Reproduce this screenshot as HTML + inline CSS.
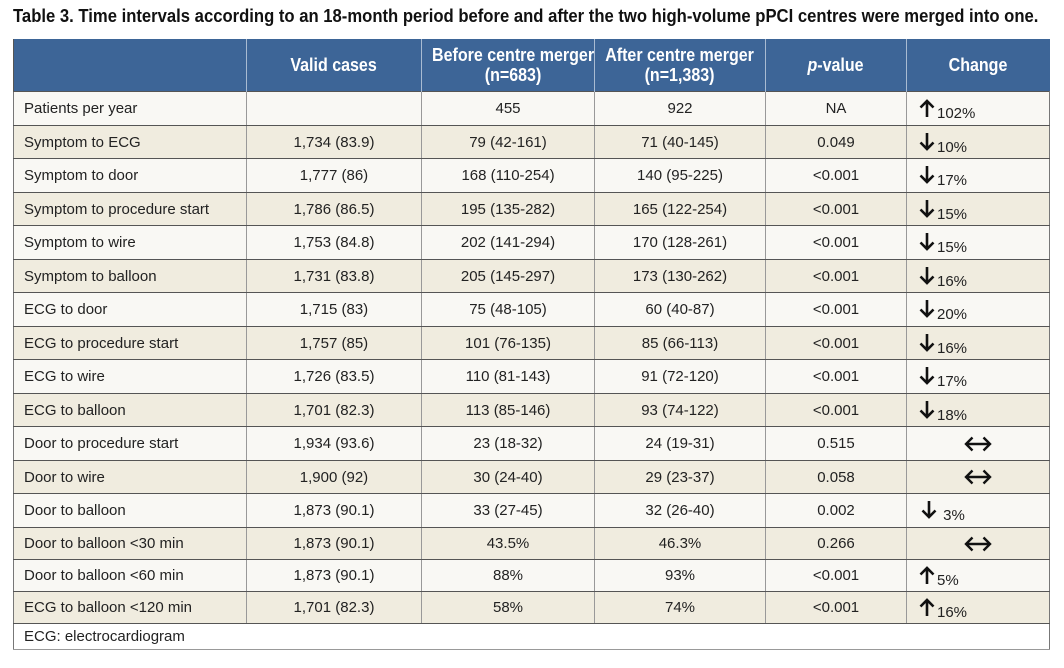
<!DOCTYPE html>
<html><head><meta charset="utf-8"><style>
body{margin:0;width:1064px;height:668px;background:#fff;font-family:"Liberation Sans",sans-serif;position:relative;overflow:hidden}
.title{position:absolute;left:13px;top:6px;font-weight:bold;font-size:18px;color:#111;white-space:nowrap;transform:scaleX(0.925);transform-origin:0 0}
table{position:absolute;left:13px;top:39px;border-collapse:collapse;table-layout:fixed;width:1036px;font-size:15px;color:#222}
th{background:#3d6597;color:#fff;font-weight:bold;font-size:18px;height:52px;border-left:1px solid #a9bbd2;line-height:20px;padding:0;white-space:nowrap}
th span{display:inline-block;transform:scaleX(0.89)}
th:first-child{border-left:1px solid #555}
td{border:1px solid #999;border-top:1px solid #555;border-bottom:1px solid #555;text-align:center;padding:0;white-space:nowrap}
td:first-child{text-align:left;padding-left:10px;border-left:1px solid #777}
td:last-child{border-right:1px solid #777}
tr.o td{background:#f9f8f4}
tr.e td{background:#f0ecdf}
.ch{text-align:left!important;padding-left:12px!important}
.ch svg{vertical-align:-3px;margin-right:2px}
.ch span.t{position:relative;top:3px}
.ft td{background:#fff;text-align:left;border-right:1px solid #777}
</style></head><body>
<svg width="0" height="0" style="position:absolute"><defs>
<g id="up"><path d="M8 19V3M1.5 9.5L8 3l6.5 6.5" stroke="#111" stroke-width="2.6" fill="none"/></g>
<g id="dn"><path d="M8 1v16M1.5 10.5L8 17l6.5-6.5" stroke="#111" stroke-width="2.6" fill="none"/></g>
<g id="lr"><path d="M2 10h24M8.5 3.5L2 10l6.5 6.5M19.5 3.5L26 10l-6.5 6.5" stroke="#111" stroke-width="2.4" fill="none"/></g>
</defs></svg>
<div class="title">Table 3. Time intervals according to an 18-month period before and after the two high-volume pPCI centres were merged into one.</div>
<table>
<colgroup><col style="width:233px"><col style="width:175px"><col style="width:173px"><col style="width:171px"><col style="width:141px"><col style="width:143px"></colgroup>
<tr><th></th><th><span>Valid cases</span></th><th><span>Before centre merger<br>(n=683)</span></th><th><span>After centre merger<br>(n=1,383)</span></th><th><span><i>p</i>-value</span></th><th><span>Change</span></th></tr>
<tr class="o" style="height:34px"><td>Patients per year</td><td></td><td>455</td><td>922</td><td>NA</td><td class="ch"><svg width="16" height="20"><use href="#up"/></svg><span class="t">102%</span></td></tr>
<tr class="e" style="height:33px"><td>Symptom to ECG</td><td>1,734 (83.9)</td><td>79 (42-161)</td><td>71 (40-145)</td><td>0.049</td><td class="ch"><svg width="16" height="20"><use href="#dn"/></svg><span class="t">10%</span></td></tr>
<tr class="o" style="height:34px"><td>Symptom to door</td><td>1,777 (86)</td><td>168 (110-254)</td><td>140 (95-225)</td><td>&lt;0.001</td><td class="ch"><svg width="16" height="20"><use href="#dn"/></svg><span class="t">17%</span></td></tr>
<tr class="e" style="height:33px"><td>Symptom to procedure start</td><td>1,786 (86.5)</td><td>195 (135-282)</td><td>165 (122-254)</td><td>&lt;0.001</td><td class="ch"><svg width="16" height="20"><use href="#dn"/></svg><span class="t">15%</span></td></tr>
<tr class="o" style="height:34px"><td>Symptom to wire</td><td>1,753 (84.8)</td><td>202 (141-294)</td><td>170 (128-261)</td><td>&lt;0.001</td><td class="ch"><svg width="16" height="20"><use href="#dn"/></svg><span class="t">15%</span></td></tr>
<tr class="e" style="height:33px"><td>Symptom to balloon</td><td>1,731 (83.8)</td><td>205 (145-297)</td><td>173 (130-262)</td><td>&lt;0.001</td><td class="ch"><svg width="16" height="20"><use href="#dn"/></svg><span class="t">16%</span></td></tr>
<tr class="o" style="height:34px"><td>ECG to door</td><td>1,715 (83)</td><td>75 (48-105)</td><td>60 (40-87)</td><td>&lt;0.001</td><td class="ch"><svg width="16" height="20"><use href="#dn"/></svg><span class="t">20%</span></td></tr>
<tr class="e" style="height:33px"><td>ECG to procedure start</td><td>1,757 (85)</td><td>101 (76-135)</td><td>85 (66-113)</td><td>&lt;0.001</td><td class="ch"><svg width="16" height="20"><use href="#dn"/></svg><span class="t">16%</span></td></tr>
<tr class="o" style="height:34px"><td>ECG to wire</td><td>1,726 (83.5)</td><td>110 (81-143)</td><td>91 (72-120)</td><td>&lt;0.001</td><td class="ch"><svg width="16" height="20"><use href="#dn"/></svg><span class="t">17%</span></td></tr>
<tr class="e" style="height:33px"><td>ECG to balloon</td><td>1,701 (82.3)</td><td>113 (85-146)</td><td>93 (74-122)</td><td>&lt;0.001</td><td class="ch"><svg width="16" height="20"><use href="#dn"/></svg><span class="t">18%</span></td></tr>
<tr class="o" style="height:34px"><td>Door to procedure start</td><td>1,934 (93.6)</td><td>23 (18-32)</td><td>24 (19-31)</td><td>0.515</td><td><svg width="28" height="20" style="vertical-align:-5px"><use href="#lr"/></svg></td></tr>
<tr class="e" style="height:33px"><td>Door to wire</td><td>1,900 (92)</td><td>30 (24-40)</td><td>29 (23-37)</td><td>0.058</td><td><svg width="28" height="20" style="vertical-align:-5px"><use href="#lr"/></svg></td></tr>
<tr class="o" style="height:34px"><td>Door to balloon</td><td>1,873 (90.1)</td><td>33 (27-45)</td><td>32 (26-40)</td><td>0.002</td><td class="ch" style="padding-left:14px!important"><svg width="16" height="20"><use href="#dn"/></svg><span class="t"> 3%</span></td></tr>
<tr class="e" style="height:32px"><td>Door to balloon &lt;30 min</td><td>1,873 (90.1)</td><td>43.5%</td><td>46.3%</td><td>0.266</td><td><svg width="28" height="20" style="vertical-align:-5px"><use href="#lr"/></svg></td></tr>
<tr class="o" style="height:32px"><td>Door to balloon &lt;60 min</td><td>1,873 (90.1)</td><td>88%</td><td>93%</td><td>&lt;0.001</td><td class="ch"><svg width="16" height="20"><use href="#up"/></svg><span class="t">5%</span></td></tr>
<tr class="e" style="height:32px"><td>ECG to balloon &lt;120 min</td><td>1,701 (82.3)</td><td>58%</td><td>74%</td><td>&lt;0.001</td><td class="ch"><svg width="16" height="20"><use href="#up"/></svg><span class="t">16%</span></td></tr>
<tr class="ft" style="height:26px"><td colspan="6" style="border-bottom:1px solid #999">ECG: electrocardiogram</td></tr>
</table>
</body></html>
